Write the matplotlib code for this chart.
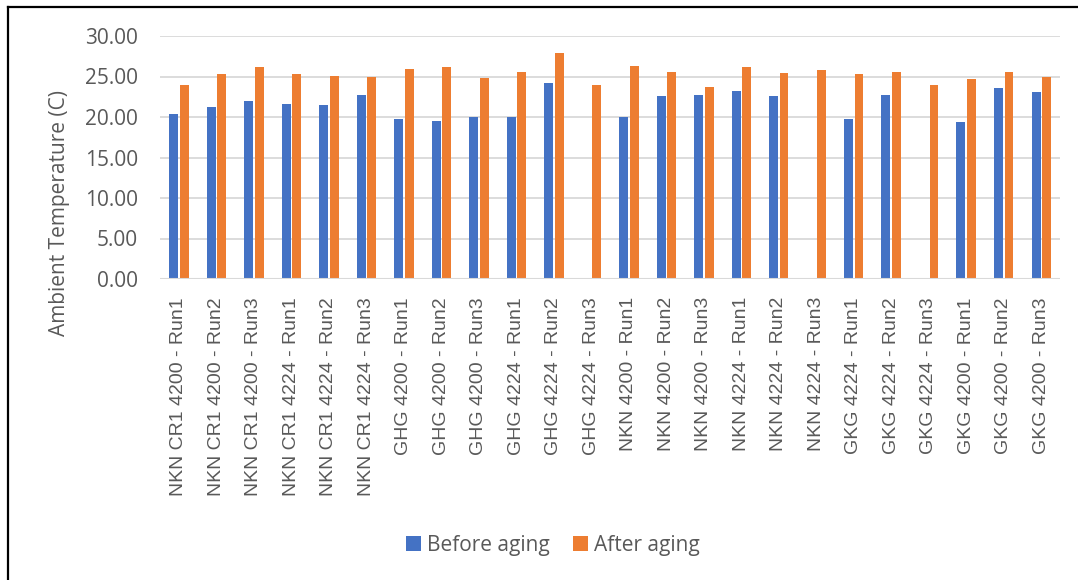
import numpy as np
import matplotlib.pyplot as plt
from matplotlib.lines import Line2D

labels = ["NKN CR1 4200 - Run1", "NKN CR1 4200 - Run2", "NKN CR1 4200 - Run3",
          "NKN CR1 4224 - Run1", "NKN CR1 4224 - Run2", "NKN CR1 4224 - Run3",
          "GHG 4200 - Run1", "GHG 4200 - Run2", "GHG 4200 - Run3",
          "GHG 4224 - Run1", "GHG 4224 - Run2", "GHG 4224 - Run3",
          "NKN 4200 - Run1", "NKN 4200 - Run2", "NKN 4200 - Run3",
          "NKN 4224 - Run1", "NKN 4224 - Run2", "NKN 4224 - Run3",
          "GKG 4224 - Run1", "GKG 4224 - Run2", "GKG 4224 - Run3",
          "GKG 4200 - Run1", "GKG 4200 - Run2", "GKG 4200 - Run3"]
before = [20.4, 21.2, 22.0, 21.6, 21.5, 22.7,
          19.8, 19.5, 19.95, 19.95, 24.2, 0.0,
          20.0, 22.6, 22.7, 23.2, 22.6, 0.0,
          19.75, 22.7, 0.0, 19.4, 23.6, 23.1]
after = [24.0, 25.3, 26.2, 25.3, 25.1, 25.0,
         25.9, 26.2, 24.8, 25.6, 27.9, 23.95,
         26.3, 25.6, 23.65, 26.2, 25.4, 25.8,
         25.35, 25.5, 23.9, 24.65, 25.6, 25.0]
yticks = [0, 5, 10, 15, 20, 25, 30]

blue = "#4472C4"
orange = "#ED7D31"
txt = "#595959"
grid = "#D9D9D9"

W, H = 1078, 580
fig = plt.figure(figsize=[W/100, H/100], dpi=100)
ax = fig.add_axes([160/W, 1-279/H, 900/W, 243/H])

x = np.arange(len(labels))
w = 0.24
ax.bar(x-0.14, before, w, color=blue, label="Before aging", zorder=3)
ax.bar(x+0.14, after, w, color=orange, label="After aging", zorder=3)

ax.set_xlim(-0.5, len(labels)-0.5)
ax.set_ylim(0, 30)
ax.set_yticks(yticks)
ax.set_yticklabels(["%.2f" % v for v in yticks], fontsize=15, color=txt, family="Open Sans")
ax.set_xticks(x)
ax.set_xticklabels(labels, rotation=90, fontsize=14, color=txt, family="Liberation Sans", va="top")
ax.tick_params(axis="y", length=0, pad=16)
ax.tick_params(axis="x", length=0, pad=13)
for s in ["top", "right", "left", "bottom"]:
    ax.spines[s].set_visible(False)
ax.grid(axis="y", color=grid, linewidth=1.3, zorder=0)
ax.axhline(0, color=grid, linewidth=1.5, zorder=4)

# axis title placed in figure pixels
fig.text(60/W, 1-213/H, "Ambient Temperature (C)", rotation=90, ha="center", va="center",
         fontsize=15, color=txt, family="Open Sans")

leg = fig.legend(loc="center", bbox_to_anchor=(553/W, 1-545/H), ncol=2, frameon=False,
                 prop={"family": "Open Sans", "size": 15}, handlelength=0.7, handleheight=0.7,
                 handletextpad=0.3, columnspacing=1.15)
for t in leg.get_texts():
    t.set_color(txt)

# chart border (cut off at the right and bottom)
fig.add_artist(Line2D([8/W, 8/W], [0, 1-7/H], color="black", linewidth=1.6, transform=fig.transFigure))
fig.add_artist(Line2D([8/W, 1], [1-7/H, 1-7/H], color="black", linewidth=1.6, transform=fig.transFigure))

fig.savefig("out.png", dpi=100)
